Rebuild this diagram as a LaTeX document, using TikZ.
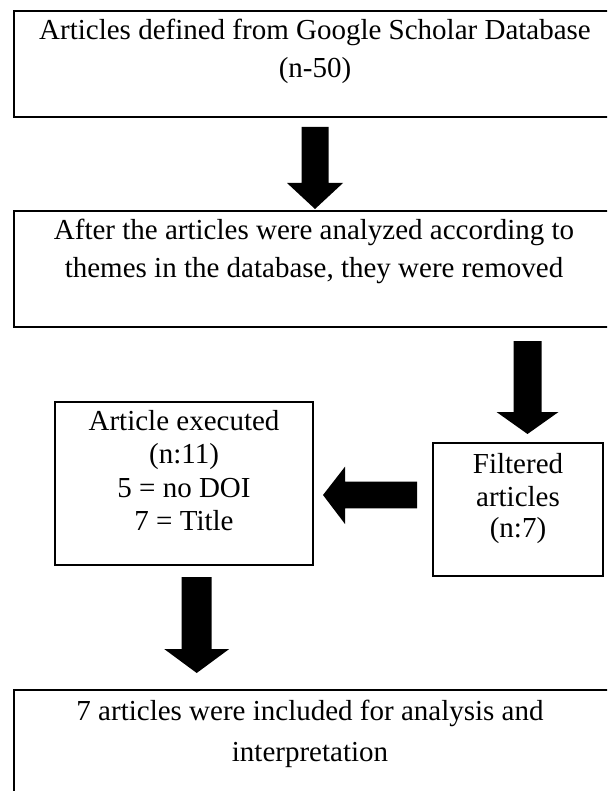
\documentclass[tikz,border=0pt]{standalone}
\usepackage{fontspec}
\setmainfont{Liberation Serif}
\begin{document}
\begin{tikzpicture}[x=1pt,y=-1pt,
  box/.style={draw=black, line width=2pt, inner sep=0pt, outer sep=0pt, anchor=north west},
  txt/.style={font=\fontsize{29}{33}\selectfont, inner sep=0pt, anchor=base},
  blk/.style={fill=black, draw=none}]
\clip (0,0) rectangle (607,791);
\fill[white] (0,0) rectangle (607,791);
% boxes
\node[box, minimum width=600pt, minimum height=106pt] (b1) at (14,11) {};
\node[box, minimum width=600pt, minimum height=116pt] (b2) at (14,211) {};
\node[box, minimum width=258pt, minimum height=163pt] (b3) at (55,402) {};
\node[box, minimum width=170pt, minimum height=133pt] (b4) at (433,443) {};
\node[box, minimum width=600pt, minimum height=120pt] (b5) at (14,690) {};
% texts
\node[txt] (t1a) at (315,40) {Articles defined from Google Scholar Database};
\node[txt] (t1b) at (315,78) {(n-50)};
\node[txt] (t2a) at (314,240) {After the articles were analyzed according to};
\node[txt] (t2b) at (314,277) {themes in the database, they were removed};
\node[txt] (t3a) at (184,430) {Article executed};
\node[txt] (t3b) at (184,463) {(n:11)};
\node[txt] (t3c) at (184,497) {5 = no DOI};
\node[txt] (t3d) at (184,530) {7 = Title};
\node[txt] (t4a) at (518,473) {Filtered};
\node[txt] (t4b) at (518,506) {articles};
\node[txt] (t4c) at (518,537) {(n:7)};
\node[txt] (t5a) at (310,720) {7 articles were included for analysis and};
\node[txt] (t5b) at (310,761) {interpretation};
% block arrows
\fill[blk] (301.5,127) -- (328.5,127) -- (328.5,183) -- (343,183) -- (315,209) -- (287,183) -- (301.5,183) -- cycle;
\fill[blk] (513.5,341) -- (541.5,341) -- (541.5,412) -- (558.5,412) -- (527.5,434) -- (496.5,412) -- (513.5,412) -- cycle;
\fill[blk] (417,481.7) -- (417,508.3) -- (345,508.3) -- (345,524) -- (323,495) -- (345,466.7) -- (345,481.7) -- cycle;
\fill[blk] (181.7,577) -- (211.7,577) -- (211.7,649) -- (229.2,649) -- (196.7,673) -- (164.2,649) -- (181.7,649) -- cycle;
\end{tikzpicture}
\end{document}
